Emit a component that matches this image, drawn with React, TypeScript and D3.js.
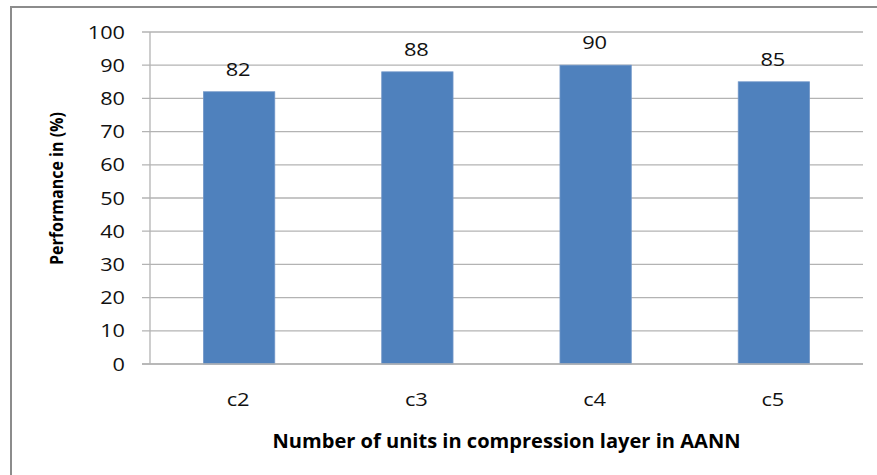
import React from "react";
import * as d3 from "d3";

const categories: string[] = ["c2", "c3", "c4", "c5"];
const performance: number[] = [82, 88, 90, 85];
const yTicks: number[] = [0, 10, 20, 30, 40, 50, 60, 70, 80, 90, 100];
const xTitle = "Number of units in compression layer in AANN";
const yTitle = "Performance in (%)";

const W = 877;
const H = 475;
const plot = { left: 150, right: 863, top: 32, bottom: 364 };
const FONT = "'Open Sans', 'Liberation Sans', sans-serif";
const BAR = "#4f81bd";
const GRID = "#b3b3b3";

export default function App() {
  const x = d3
    .scaleBand<string>()
    .domain(categories)
    .range([plot.left, plot.right])
    .paddingInner(0)
    .paddingOuter(0);
  const y = d3.scaleLinear().domain([0, 100]).range([plot.bottom, plot.top]);
  const barW = x.bandwidth() * 0.4;

  return (
    <svg
      width={W}
      height={H}
      style={{ position: "absolute", left: 0, top: 0, background: "#fff" }}
    >
      {/* outer frame */}
      <rect x={11} y={7} width={W + 20} height={H + 20} fill="#fff" stroke="#8c8c8c" strokeWidth={2} />

      {/* gridlines and y ticks */}
      {yTicks.map((t) => (
        <g key={t}>
          <line
            x1={plot.left - 8}
            x2={plot.right}
            y1={y(t)}
            y2={y(t)}
            stroke={GRID}
            strokeWidth={1.3}
          />
          <text
            x={125}
            y={y(t)}
            dy="0.36em"
            textAnchor="end"
            fontFamily={FONT}
            fontSize={18.5}
            fill="#111"
            textLength={String(t).length * 12.4}
            lengthAdjust="spacingAndGlyphs"
          >
            {t}
          </text>
        </g>
      ))}

      {/* y axis line */}
      <line x1={plot.left} x2={plot.left} y1={plot.top} y2={plot.bottom} stroke={GRID} strokeWidth={1.3} />

      {/* bars */}
      {categories.map((c, i) => {
        const cx = (x(c) as number) + x.bandwidth() / 2;
        return (
          <g key={c}>
            <rect
              x={cx - barW / 2}
              y={y(performance[i])}
              width={barW}
              height={y(0) - y(performance[i])}
              fill={BAR}
              stroke="#7096c8"
              strokeWidth={0.8}
            />
            <text
              x={cx - 1}
              y={y(performance[i]) - 16}
              textAnchor="middle"
              fontFamily={FONT}
              fontSize={19}
              fill="#111"
              textLength={String(performance[i]).length * 12.5}
              lengthAdjust="spacingAndGlyphs"
            >
              {performance[i]}
            </text>
            <text
              x={cx - 1}
              y={406}
              textAnchor="middle"
              fontFamily={FONT}
              fontSize={18.5}
              fill="#111"
              textLength={23}
              lengthAdjust="spacingAndGlyphs"
            >
              {c}
            </text>
          </g>
        );
      })}

      {/* x axis line */}
      <line x1={plot.left - 8} x2={plot.right} y1={plot.bottom} y2={plot.bottom} stroke={GRID} strokeWidth={1.3} />

      {/* axis titles */}
      <text
        x={(plot.left + plot.right) / 2}
        y={448}
        textAnchor="middle"
        fontFamily={FONT}
        fontWeight="bold"
        fontSize={19.5}
        fill="#000"
        textLength={468}
        lengthAdjust="spacingAndGlyphs"
      >
        {xTitle}
      </text>
      <text
        transform="translate(63,188.5) rotate(-90)"
        textAnchor="middle"
        fontFamily={FONT}
        fontWeight="bold"
        fontSize={18.5}
        fill="#000"
        textLength={153}
        lengthAdjust="spacingAndGlyphs"
      >
        {yTitle}
      </text>
    </svg>
  );
}
